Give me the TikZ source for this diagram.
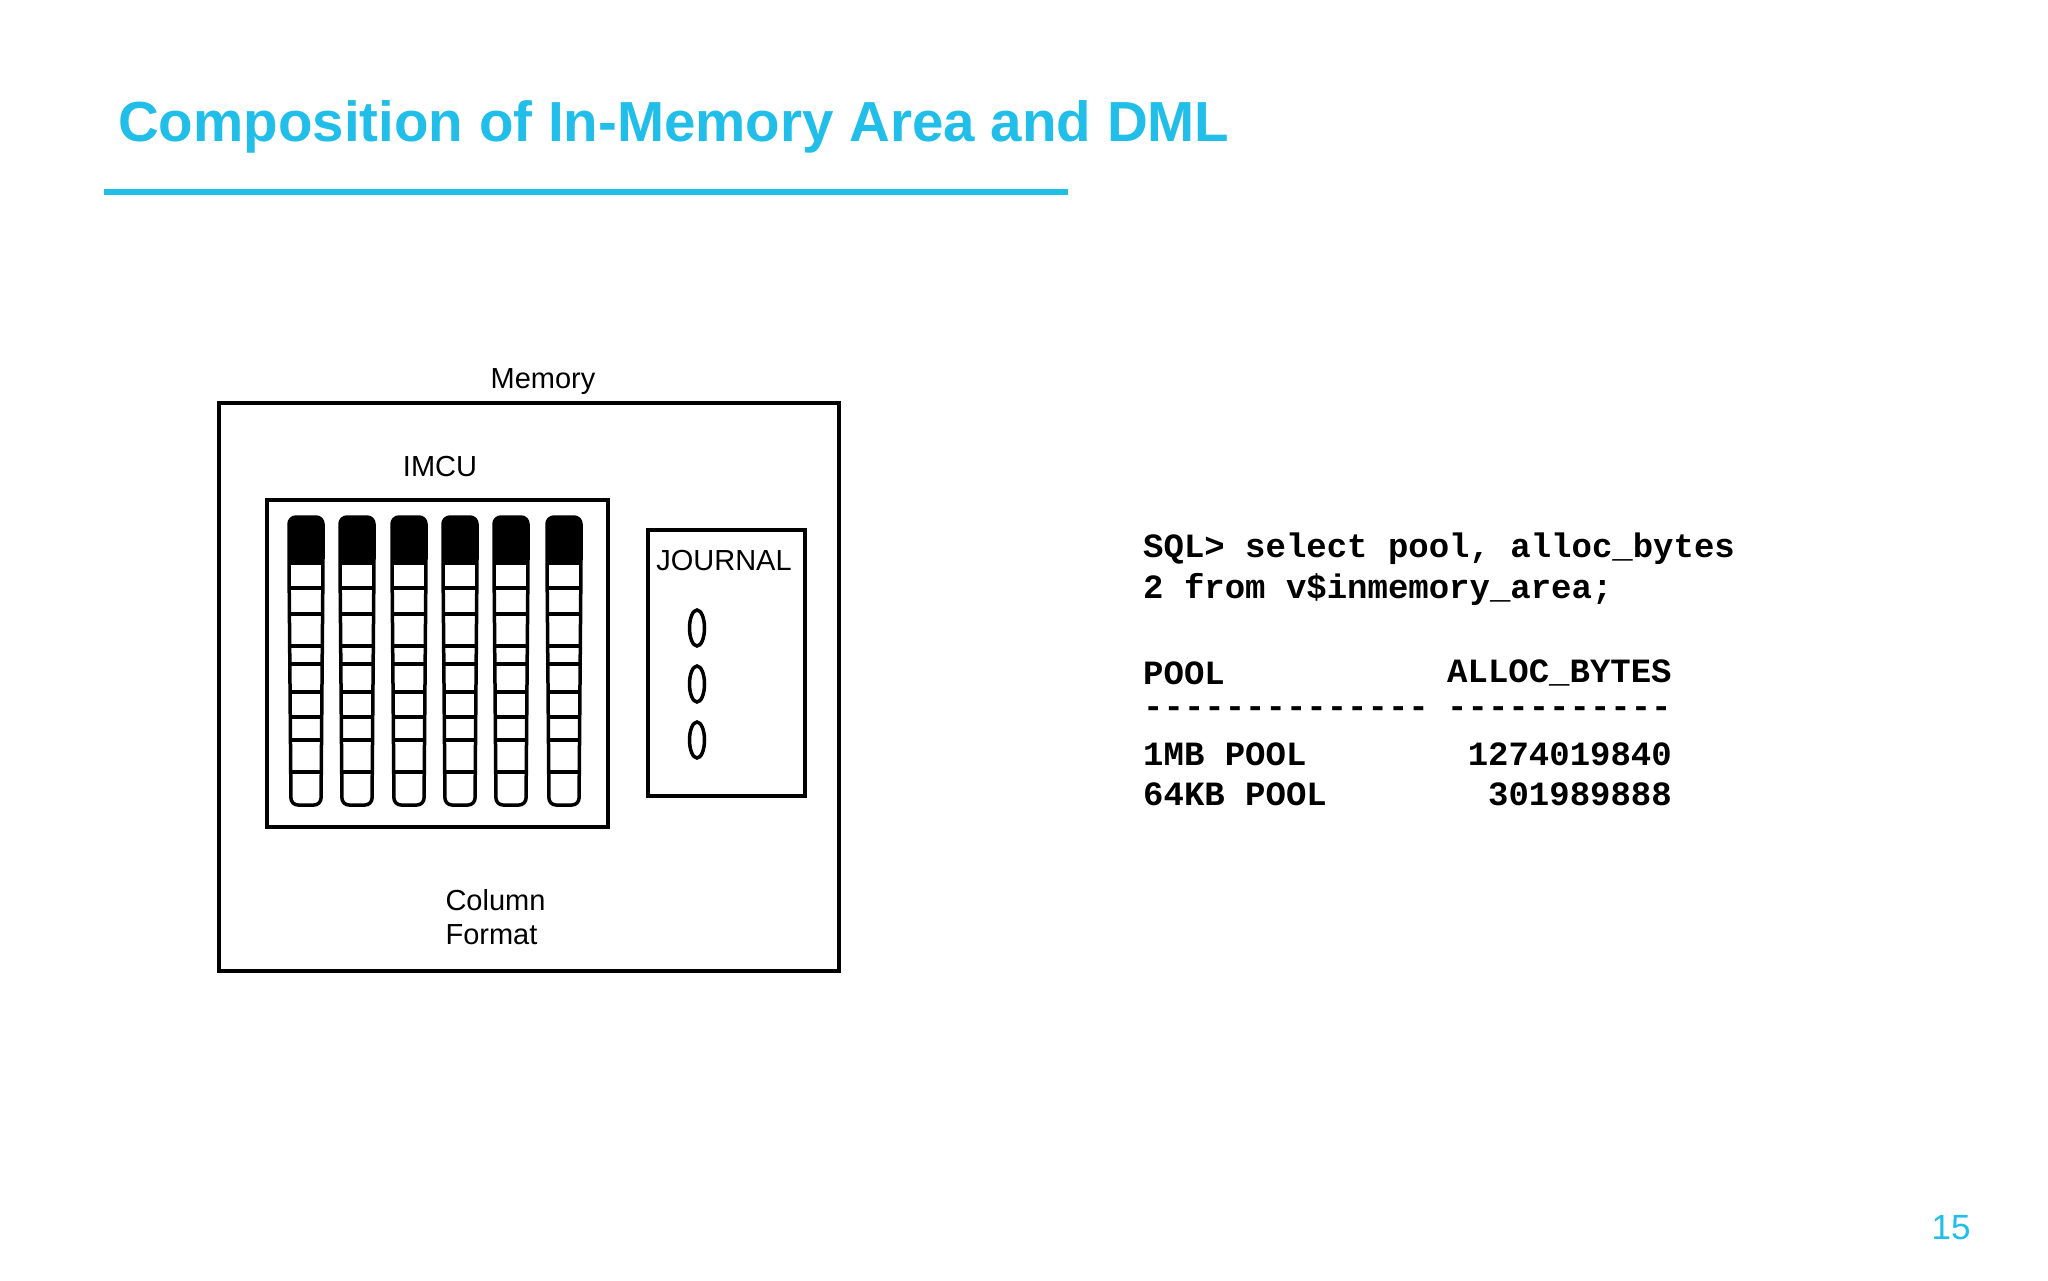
\documentclass[tikz,border=0pt]{standalone}
\usetikzlibrary{shapes.geometric}
\usepackage{fontspec}
\setmainfont{Liberation Sans}
\newfontfamily\monob{Liberation Mono}[BoldFont={Liberation Mono Bold}]
\definecolor{ttl}{RGB}{32,190,232}
\begin{document}
\begin{tikzpicture}[x=1pt,y=-1pt,
  lbl/.style={font=\fontsize{29}{34}\selectfont},
  sql/.style={font=\fontsize{34}{38}\selectfont\monob\bfseries,inner sep=0pt},
  box/.style={draw,line width=4pt},
  zero/.style={draw,line width=3.5pt,ellipse,minimum width=15pt,minimum height=36pt,inner sep=0pt}]
\useasboundingbox[fill=white] (0,0) rectangle (2048,1280);
\node[anchor=base west,inner sep=0pt,text=ttl,font=\fontsize{56.5}{66}\selectfont\bfseries] (title) at (118,141) {Composition of In-Memory Area and DML};
\draw[ttl,line width=6pt] (104,192) -- (1068,192);
\node[box,minimum width=620pt,minimum height=568pt,anchor=north west] (mem) at (217,401) {};
\node[lbl] (memlbl) at (543,382) {Memory};
\node[lbl] (imculbl) at (440,467) {IMCU};
\node[box,minimum width=341pt,minimum height=327pt,anchor=north west] (imcu) at (265,498) {};
\node[box,minimum width=157pt,minimum height=266pt,anchor=north west] (jr) at (646,528) {};
\node[lbl] (jrlbl) at (724,561) {JOURNAL};
\node[zero] (z1) at (697,628) {};
\node[zero] (z2) at (697,684) {};
\node[zero] (z3) at (697,740) {};
\node[lbl,align=left,anchor=north west,font=\fontsize{29}{34}\selectfont] (cf) at (442,886) {Column\\Format};
\foreach \x in {289,340,392,443,494,547}{
  \fill[rounded corners=7pt] (\x,563) -- (\x,517) -- (\x+34,517) [sharp corners] -- (\x+34,563) -- cycle;
  \fill (\x,545) rectangle (\x+34,563);
  \draw[line width=3.5pt,rounded corners=7pt] (\x+17,517) -- (\x+34,517) -- (\x+34,563) -- (\x+32,805) -- (\x+2,805) -- (\x,563) -- (\x,517) -- (\x+17,517);
  \foreach \y in {563,588,614,646,664,692,717,740,772}{
    \draw[line width=3.5pt] (\x,\y) -- (\x+34,\y);
  }
}
\node[sql,anchor=west] (s1) at (1143,549) {SQL> select pool, alloc\_bytes};
\node[sql,anchor=west] (s2) at (1143,589) {2 from v\$inmemory\_area;};
\node[sql,anchor=west] (h1) at (1143,673) {POOL};
\node[sql,anchor=west] (h2) at (1447,673) {ALLOC\_BYTES};
\node[sql,anchor=west] (d1) at (1143,712) {-{}-{}-{}-{}-{}-{}-{}-{}-{}-{}-{}-{}-{}-};
\node[sql,anchor=west] (d2) at (1447,712) {-{}-{}-{}-{}-{}-{}-{}-{}-{}-{}-};
\node[sql,anchor=west] (r1) at (1143,754) {1MB POOL};
\node[sql,anchor=east] (v1) at (1672,754) {1274019840};
\node[sql,anchor=west] (r2) at (1143,794) {64KB POOL};
\node[sql,anchor=east] (v2) at (1672,794) {301989888};
\node[text=ttl,font=\fontsize{35}{40}\selectfont] (pg) at (1951,1228) {15};
\end{tikzpicture}
\end{document}
